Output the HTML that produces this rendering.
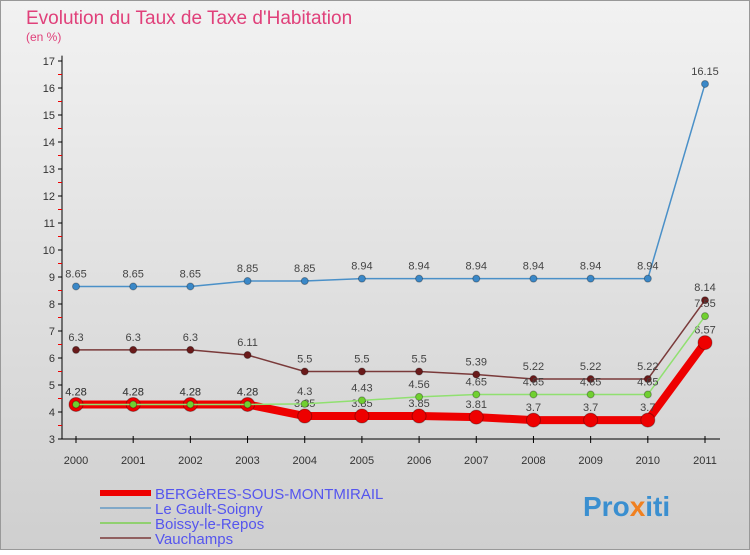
<!DOCTYPE html>
<html><head><meta charset="utf-8"><style>
body{margin:0;width:750px;height:550px;overflow:hidden;font-family:"Liberation Sans",sans-serif}
</style></head><body>
<svg id="c" width="750" height="550" xmlns="http://www.w3.org/2000/svg">
<defs><linearGradient id="bg" x1="0" y1="0" x2="0" y2="1"><stop offset="0" stop-color="#f2f2f2"/><stop offset="1" stop-color="#cfcfcf"/></linearGradient></defs>
<rect x="0.5" y="0.5" width="749" height="549" fill="url(#bg)" stroke="#999"/>
<text x="26" y="24" font-size="19" fill="#e0407a">Evolution du Taux de Taxe d'Habitation</text>
<text x="26" y="41" font-size="12" fill="#e0407a">(en %)</text>
<g id="axes"></g><g id="series"></g><g id="legend"></g>
<text x="583" y="516" font-size="28" font-weight="bold" fill="#3a8fd0">Pro<tspan fill="#f08020">x</tspan>iti</text>
</svg>
<script>
const years=["2000","2001","2002","2003","2004","2005","2006","2007","2008","2009","2010","2011"];
const yTicks=[3,4,5,6,7,8,9,10,11,12,13,14,15,16,17];
const bergeres=[4.28,4.28,4.28,4.28,3.85,3.85,3.85,3.81,3.7,3.7,3.7,6.57];
const gault=[8.65,8.65,8.65,8.85,8.85,8.94,8.94,8.94,8.94,8.94,8.94,16.15];
const boissy=[4.28,4.28,4.28,4.28,4.3,4.43,4.56,4.65,4.65,4.65,4.65,7.55];
const vauchamps=[6.3,6.3,6.3,6.11,5.5,5.5,5.5,5.39,5.22,5.22,5.22,8.14];
const NS="http://www.w3.org/2000/svg";
const X=i=>76+i*(705-76)/11, Y=v=>439-(v-3)*27;
function mk(p,t,a){const e=document.createElementNS(NS,t);for(const k in a)e.setAttribute(k,a[k]);p.appendChild(e);return e;}
const ax=document.getElementById('axes');
let l=mk(ax,'line',{x1:62,y1:Y(3),x2:62,y2:Y(17.2),stroke:'#000'});


l=mk(ax,'line',{x1:62,y1:Y(3),x2:720,y2:Y(3),stroke:'#000'});


yTicks.forEach(v=>{
 mk(ax,'line',{x1:58,y1:Y(v),x2:62,y2:Y(v),stroke:'#000'});
 if(v<17) mk(ax,'line',{x1:58,y1:Y(v+0.5),x2:62,y2:Y(v+0.5),stroke:'#e00'});
 const t=mk(ax,'text',{x:55,y:Y(v)+4,'font-size':11,'text-anchor':'end',fill:'#333'});
 t.textContent=v;
 
 
});
years.forEach((y,i)=>{
 mk(ax,'line',{x1:X(i),y1:Y(3)-3,x2:X(i),y2:Y(3)+4,stroke:'#000'});
 const t=mk(ax,'text',{x:X(i),y:Y(3)+25,'font-size':11,'text-anchor':'middle',fill:'#333'});
 t.textContent=y;
 
 
});
const sg=document.getElementById('series');
function draw(vals,name,color,w,r,dot){
 const g=mk(sg,'g',{});
 
 
 const pl=mk(g,'polyline',{points:vals.map((v,i)=>X(i)+','+Y(v)).join(' '),fill:'none',stroke:color,'stroke-width':w,'stroke-linejoin':'round'});
 
 
 vals.forEach((v,i)=>{
  const c=mk(g,'circle',{cx:X(i),cy:Y(v),r:r,fill:dot,stroke:'rgba(0,0,0,0.3)'});
  
  
  const t=mk(g,'text',{x:X(i),y:Y(v)-9,'font-size':11,'text-anchor':'middle',fill:'#444'});
  t.textContent=v;
  
  
 });
}
draw(gault,'le-gault-soigny','#4a90c8',1.5,3.5,'#3a88c8');
draw(vauchamps,'vauchamps','#7a3a3a',1.5,3.5,'#6a1a1a');
draw(bergeres,'bergeres','#ee0000',8,7,'#ee0000');
draw(boissy,'boissy-le-repos','#90e070',1.5,3.5,'#70d030');
const lg=document.getElementById('legend');
const items=[["BERGèRES-SOUS-MONTMIRAIL","#ee0000",6],["Le Gault-Soigny","#80a8c8",2],["Boissy-le-Repos","#90d070",2],["Vauchamps","#906060",2]];
items.forEach((it,i)=>{
 const y=493+i*15;
 const ln=mk(lg,'line',{x1:100,y1:y,x2:151,y2:y,stroke:it[1],'stroke-width':it[2]});
 
 
 const t=mk(lg,'text',{x:155,y:y+6,'font-size':15,fill:'#5555ee'});
 t.textContent=it[0];
 
 
});
</script>
</body></html>
